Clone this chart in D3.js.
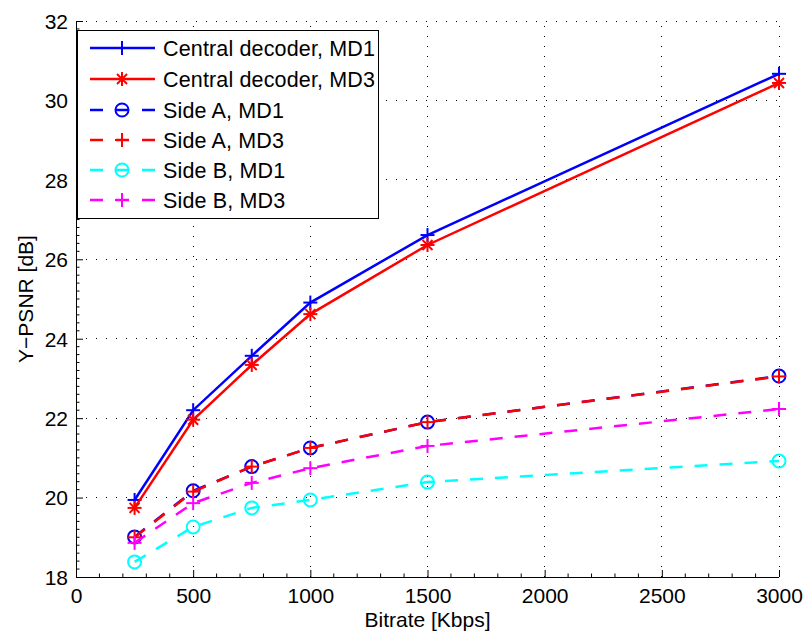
<!DOCTYPE html>
<html><head><meta charset="utf-8">
<script src="https://cdn.jsdelivr.net/npm/d3@7"></script>
<style>html,body{margin:0;padding:0;background:#fff;}svg{display:block;font-family:"Liberation Sans",Arial,sans-serif;}</style>
</head><body>
<svg id="c" width="808" height="634"></svg>
<script>
const bitrates = [250, 500, 750, 1000, 1500, 3000];
const centralMD1 = [19.94, 22.20, 23.57, 24.91, 26.61, 30.67];
const centralMD3 = [19.74, 21.96, 23.34, 24.62, 26.36, 30.44];
const sideAMD1 = [19.01, 20.17, 20.78, 21.25, 21.90, 23.06];
const sideAMD3 = [19.00, 20.15, 20.78, 21.25, 21.90, 23.05];
const sideBMD1 = [18.38, 19.26, 19.74, 19.94, 20.39, 20.92];
const sideBMD3 = [18.86, 19.86, 20.37, 20.74, 21.30, 22.23];
const xTicks = [0, 500, 1000, 1500, 2000, 2500, 3000];
const yTicks = [18, 20, 22, 24, 26, 28, 30, 32];
const seriesNames = ["Central decoder, MD1", "Central decoder, MD3", "Side A, MD1", "Side A, MD3", "Side B, MD1", "Side B, MD3"];
const seriesColors = ["#0000ff", "#ff0000", "#0000ff", "#ff0000", "#00ffff", "#ff00ff"];
const seriesMarkers = ["plus", "star", "circle", "plus", "circle", "plus"];
const seriesDashed = [false, false, true, true, true, true];
const seriesValues = [centralMD1, centralMD3, sideAMD1, sideAMD3, sideBMD1, sideBMD3];

const svg = d3.select("#c");
const L = 76, R = 779, T = 21, B = 577;
const x = d3.scaleLinear().domain([0, 3000]).range([L, R]);
const y = d3.scaleLinear().domain([18, 32]).range([B, T]);
const FS = 21;

// grid
const grid = svg.append("g");
xTicks.forEach(t => {
  grid.append("line").attr("x1", x(t)).attr("x2", x(t)).attr("y1", B).attr("y2", T)
    .attr("stroke", "#000").attr("stroke-width", 1).attr("stroke-dasharray", "1,9").attr("shape-rendering","crispEdges");
});
yTicks.forEach(t => {
  grid.append("line").attr("x1", L).attr("x2", R).attr("y1", y(t)).attr("y2", y(t))
    .attr("stroke", "#000").attr("stroke-width", 1).attr("stroke-dasharray", "1,9").attr("shape-rendering","crispEdges");
});

// axes
const xAxis = d3.axisBottom(x).tickValues(xTicks).tickSize(-7).tickPadding(14).tickFormat(d3.format("d"));
const yAxis = d3.axisLeft(y).tickValues(yTicks).tickSize(-7).tickPadding(14).tickFormat(d3.format("d"));
const gx = svg.append("g").attr("transform", `translate(0,${B})`).call(xAxis);
const gy = svg.append("g").attr("transform", `translate(${L},0)`).call(yAxis);
[gx, gy].forEach(g => {
  g.select(".domain").attr("stroke", "#000").attr("stroke-width", 1);
  g.selectAll(".tick line").attr("stroke", "#000");
  g.selectAll("text").attr("font-size", FS).attr("font-family", "Liberation Sans, Arial, sans-serif").attr("fill", "#000");
});
gx.select(".domain").attr("d", `M${L},0.5H${R}`);
gy.select(".domain").attr("d", `M0.5,${B}V${T}`);
gx.selectAll("text").attr("dy", null).attr("y", 26);
gy.selectAll("text").attr("x", -8).attr("dy", "0.35em");

// minor ticks
const minorX = d3.range(0, 3001, 100).filter(v => v % 500 !== 0);
const minorY = d3.range(18, 32.001, 0.2).filter(v => Math.abs(v / 2 - Math.round(v / 2)) > 1e-6);
svg.append("g").selectAll("line").data(minorX).join("line")
  .attr("x1", d => x(d)).attr("x2", d => x(d)).attr("y1", B).attr("y2", B - 3.5)
  .attr("stroke", "#000").attr("stroke-width", 1);
svg.append("g").selectAll("line").data(minorY).join("line")
  .attr("x1", L).attr("x2", L + 3.5).attr("y1", d => y(d)).attr("y2", d => y(d))
  .attr("stroke", "#000").attr("stroke-width", 1);

// labels
svg.append("text").attr("x", (L + R) / 2).attr("y", 627).attr("text-anchor", "middle")
  .attr("font-size", FS).text("Bitrate [Kbps]");
svg.append("text").attr("transform", `translate(33,${(T + B) / 2}) rotate(-90)`).attr("text-anchor", "middle")
  .attr("font-size", FS).text("Y\u2212PSNR [dB]");

function drawMarker(g, type, cx, cy, color) {
  const s = 7;
  if (type === "plus" || type === "star") {
    g.append("line").attr("x1", cx - s).attr("x2", cx + s).attr("y1", cy).attr("y2", cy).attr("stroke", color).attr("stroke-width", 2);
    g.append("line").attr("x1", cx).attr("x2", cx).attr("y1", cy - s).attr("y2", cy + s).attr("stroke", color).attr("stroke-width", 2);
  }
  if (type === "star") {
    const d = 5;
    g.append("line").attr("x1", cx - d).attr("x2", cx + d).attr("y1", cy - d).attr("y2", cy + d).attr("stroke", color).attr("stroke-width", 2);
    g.append("line").attr("x1", cx - d).attr("x2", cx + d).attr("y1", cy + d).attr("y2", cy - d).attr("stroke", color).attr("stroke-width", 2);
  }
  if (type === "circle") {
    g.append("circle").attr("cx", cx).attr("cy", cy).attr("r", 6.5).attr("fill", "none").attr("stroke", color).attr("stroke-width", 2);
  }
}

const line = d3.line().x((d, i) => x(bitrates[i])).y(d => y(d));
seriesValues.forEach((vals, k) => {
  const g = svg.append("g");
  g.append("path").attr("d", line(vals)).attr("fill", "none").attr("stroke", seriesColors[k])
    .attr("stroke-width", 2.5).attr("stroke-dasharray", seriesDashed[k] ? "13,12" : null);
  vals.forEach((v, i) => drawMarker(g, seriesMarkers[k], x(bitrates[i]), y(v), seriesColors[k]));
});

// legend
const lg = svg.append("g");
lg.append("rect").attr("x", 77.5).attr("y", 30.5).attr("width", 301).attr("height", 188)
  .attr("fill", "#fff").attr("stroke", "#000").attr("stroke-width", 1);
const legY = [48, 79, 110, 140, 170, 200];
seriesNames.forEach((name, k) => {
  const yy = legY[k];
  lg.append("line").attr("x1", 90).attr("x2", 155).attr("y1", yy).attr("y2", yy)
    .attr("stroke", seriesColors[k]).attr("stroke-width", 2.5).attr("stroke-dasharray", seriesDashed[k] ? "13,13" : null);
  drawMarker(lg, seriesMarkers[k], 122, yy, seriesColors[k]);
  lg.append("text").attr("x", 163).attr("y", yy).attr("dy", "0.35em").attr("font-size", 21.5)
    .attr("letter-spacing", 0.15).text(name);
});
</script>
</body></html>
